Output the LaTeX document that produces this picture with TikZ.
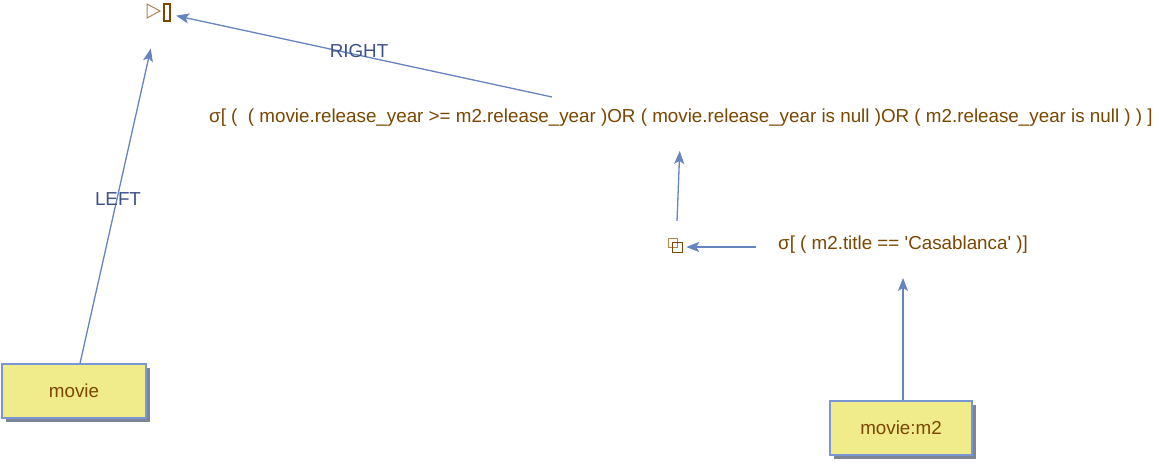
\documentclass[tikz,border=0pt]{standalone}
\usepackage{fontspec}
\setmainfont{Liberation Sans}
\usetikzlibrary{arrows.meta,positioning,shadows}

\definecolor{optext}{RGB}{122,70,0}
\definecolor{oplight}{RGB}{178,130,80}
\definecolor{edgeblue}{RGB}{102,132,192}
\definecolor{labelblue}{RGB}{62,82,134}
\definecolor{relfill}{RGB}{240,236,140}
\definecolor{relborder}{RGB}{122,150,212}
\definecolor{relshadow}{RGB}{124,132,150}

\tikzset{
  relation/.style={draw=relborder, fill=relfill, line width=1.2pt,
    minimum width=144pt, minimum height=54pt, text=optext,
    font=\fontsize{18.8}{22}\selectfont,
    drop shadow={shadow xshift=4pt, shadow yshift=-4pt, fill=relshadow, opacity=1}},
  operator/.style={text=optext, font=\fontsize{18.8}{22}\selectfont, inner sep=2pt},
  symbol/.style={minimum size=18pt, inner sep=0pt},
  flow/.style={draw=edgeblue, line width=1.3pt,
    -{Stealth[length=13pt, width=10pt, inset=3pt]}},
  edgelabel/.style={text=labelblue, font=\fontsize{18.8}{22}\selectfont}
}

\begin{document}
\begin{tikzpicture}[x=1pt, y=-1pt]
  \useasboundingbox (0,0) rectangle (1161,465);

  % Define nodes
  \node[symbol]            (join)  at (159,12)  {};
  \node[operator]          (sel1)  at (681,118)
    {σ[ (\ \ ( movie.release\_year >= m2.release\_year )OR ( movie.release\_year is null )OR ( m2.release\_year is null ) ) ]};
  \node[symbol]            (prod)  at (676,247) {};
  \node[operator]          (sel2)  at (903,245)
    {σ[ ( m2.title == \textquotesingle Casablanca\textquotesingle\ )]};
  \node[relation]          (movie) at (74,391)  {movie};
  \node[relation, minimum width=142pt] (m2) at (901,428) {movie:m2};

  % Operator symbols
  \draw[oplight, line width=1pt] (147,4) -- (160,11) -- (147,18) -- cycle;
  \draw[optext, line width=2pt] (164,4) rectangle (170,21);
  \draw[oplight, line width=1pt] (668,238) rectangle (677,247);
  \draw[optext, line width=1pt] (672,242) rectangle (682,252);

  % Connect the nodes
  \draw[flow, shorten >=28pt] ([xshift=6pt]movie.north) -- (join);
  \draw[flow, shorten >=8pt] (552,97) coordinate (selR) -- (join);
  \draw[flow, shorten <=17pt, shorten >=22pt] (prod) -- (sel1);
  \draw[flow, shorten <=20pt, shorten >=1pt] (sel2.west |- prod) -- (prod.east);
  \draw[flow, shorten >=22pt] ([xshift=2pt]m2.north) -- (sel2);

  % Labels
  \node[edgelabel] (rightlab) at (359,51)  {RIGHT};
  \node[edgelabel] (leftlab)  at (118,199) {LEFT};

\end{tikzpicture}
\end{document}
